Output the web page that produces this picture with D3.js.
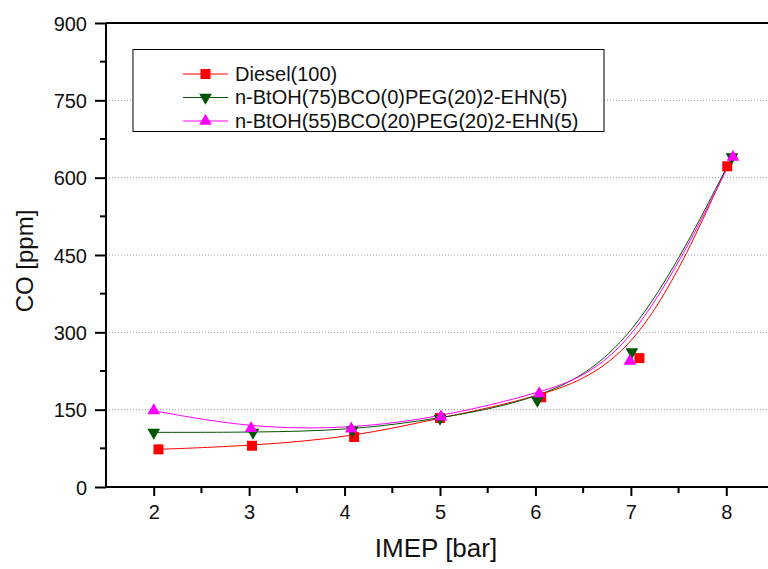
<!DOCTYPE html>
<html>
<head>
<meta charset="utf-8">
<script src="https://cdn.jsdelivr.net/npm/d3@7"></script>
<style>
  body { margin: 0; background: #fff; }
  svg { font-family: "Liberation Sans", Arial, sans-serif; }
</style>
</head>
<body>
<svg id="chart" width="768" height="569"></svg>
<script>
// series values
const seriesNames = ["Diesel(100)", "n-BtOH(75)BCO(0)PEG(20)2-EHN(5)", "n-BtOH(55)BCO(20)PEG(20)2-EHN(5)"];
const dieselX = [2.05, 3.03, 4.1, 5.0, 6.06, 7.09, 8.01];
const dieselY = [73, 80, 97, 134, 174, 250, 622];
const bco0X = [2.0, 3.04, 4.08, 5.0, 6.02, 7.01, 8.06];
const bco0Y = [106, 106, 110, 133, 168, 262, 640];
const bco20X = [2.0, 3.02, 4.07, 5.01, 6.04, 6.99, 8.07];
const bco20Y = [148, 114, 113, 136, 181, 244, 640];
const yTicks = [0, 150, 300, 450, 600, 750, 900];
const xTicks = [2, 3, 4, 5, 6, 7, 8];

const colors = ["#ff0000", "#005500", "#ff00ff"];
const symbols = [d3.symbolSquare, d3.symbolTriangle, d3.symbolTriangle];
const rotations = [0, 180, 0];

const svg = d3.select("#chart");
const margin = { left: 106, top: 23 };
const plotW = 668, plotH = 464;

const x = d3.scaleLinear().domain([1.5, 8.5]).range([margin.left, margin.left + plotW]);
const y = d3.scaleLinear().domain([0, 900]).range([margin.top + plotH, margin.top]);

// dotted grid
svg.append("g")
  .selectAll("line")
  .data(yTicks.filter(d => d > 0 && d < 900))
  .join("line")
  .attr("x1", margin.left).attr("x2", margin.left + plotW)
  .attr("y1", d => y(d)).attr("y2", d => y(d))
  .attr("stroke", "#999")
  .attr("stroke-width", 1)
  .attr("stroke-dasharray", "1,2");

const series = [
  { name: seriesNames[0], xs: dieselX, ys: dieselY },
  { name: seriesNames[1], xs: bco0X, ys: bco0Y },
  { name: seriesNames[2], xs: bco20X, ys: bco20Y }
].map((s, i) => ({ ...s, color: colors[i], symbol: symbols[i], rot: rotations[i],
  points: s.xs.map((v, j) => [v, s.ys[j]]) }));

// legend box (white, hides grid behind it)
const leg = svg.append("g");
leg.append("rect")
  .attr("x", 133).attr("y", 49.5)
  .attr("width", 471).attr("height", 82)
  .attr("fill", "#fff").attr("stroke", "#000").attr("stroke-width", 1);

// smoothed curves (B-spline like the original fit)
const line = d3.line().x(d => x(d[0])).y(d => y(d[1])).curve(d3.curveBasis);
svg.append("g")
  .selectAll("path")
  .data(series)
  .join("path")
  .attr("d", d => line(d.points))
  .attr("fill", "none")
  .attr("stroke", d => d.color)
  .attr("stroke-width", 1);

// markers
series.forEach(s => {
  const size = s.symbol === d3.symbolSquare ? 100 : 70;
  svg.append("g")
    .selectAll("path")
    .data(s.points)
    .join("path")
    .attr("d", d3.symbol().type(s.symbol).size(size))
    .attr("transform", d => `translate(${x(d[0])},${y(d[1])}) rotate(${s.rot})`)
    .attr("fill", s.color);
});

// frame: left axis, bottom axis, top line
const axisColor = "#000";
svg.append("line")
  .attr("x1", margin.left).attr("x2", margin.left + plotW)
  .attr("y1", y(900)).attr("y2", y(900))
  .attr("stroke", axisColor).attr("stroke-width", 2);

const yAxis = svg.append("g")
  .attr("transform", `translate(${margin.left},0)`)
  .call(d3.axisLeft(y).tickValues(yTicks).tickFormat(d3.format("d")).tickSize(11).tickPadding(8));
const xAxis = svg.append("g")
  .attr("transform", `translate(0,${y(0)})`)
  .call(d3.axisBottom(x).tickValues(xTicks).tickFormat(d3.format("d")).tickSize(9).tickPadding(9));

[yAxis, xAxis].forEach(g => {
  g.attr("font-size", null).attr("font-family", null);
  g.select(".domain").attr("stroke", axisColor).attr("stroke-width", 2);
  g.selectAll(".tick line").attr("stroke", axisColor).attr("stroke-width", 2);
  g.selectAll(".tick text")
    .style("font-size", "20px")
    .style("font-family", "'Liberation Sans', Arial, sans-serif")
    .attr("fill", "#111");
});
yAxis.select(".domain").attr("d", `M0,${y(0)}V${y(900)}`);
xAxis.select(".domain").attr("d", `M${margin.left},0H${margin.left + plotW}`);
yAxis.selectAll(".tick text").attr("dy", "0.36em");

// minor ticks
svg.append("g")
  .selectAll("line")
  .data(d3.range(75, 900, 150))
  .join("line")
  .attr("x1", margin.left - 6).attr("x2", margin.left)
  .attr("y1", d => y(d)).attr("y2", d => y(d))
  .attr("stroke", axisColor).attr("stroke-width", 2);
svg.append("g")
  .selectAll("line")
  .data(d3.range(2.5, 8.5, 1))
  .join("line")
  .attr("x1", d => x(d)).attr("x2", d => x(d))
  .attr("y1", y(0)).attr("y2", y(0) + 6)
  .attr("stroke", axisColor).attr("stroke-width", 2);

// axis titles
svg.append("text")
  .attr("x", 436).attr("y", 557)
  .attr("text-anchor", "middle")
  .style("font-size", "26px")
  .attr("fill", "#111")
  .text("IMEP [bar]");
svg.append("text")
  .attr("transform", "translate(33,261) rotate(-90)")
  .attr("text-anchor", "middle")
  .style("font-size", "24px")
  .attr("fill", "#111")
  .text("CO [ppm]");

// legend entries
const rowY = [74, 97.5, 121];
series.forEach((s, i) => {
  const g = leg.append("g").attr("transform", `translate(0,${rowY[i]})`);
  g.append("line")
    .attr("x1", 183).attr("x2", 228)
    .attr("stroke", s.color).attr("stroke-width", 1);
  g.append("path")
    .attr("d", d3.symbol().type(s.symbol).size(s.symbol === d3.symbolSquare ? 100 : 70))
    .attr("transform", `translate(205.5,0) rotate(${s.rot})`)
    .attr("fill", s.color);
  g.append("text")
    .attr("x", 235).attr("y", 6.5)
    .style("font-size", "20px")
    .attr("fill", "#111")
    .text(s.name);
});
</script>
</body>
</html>
